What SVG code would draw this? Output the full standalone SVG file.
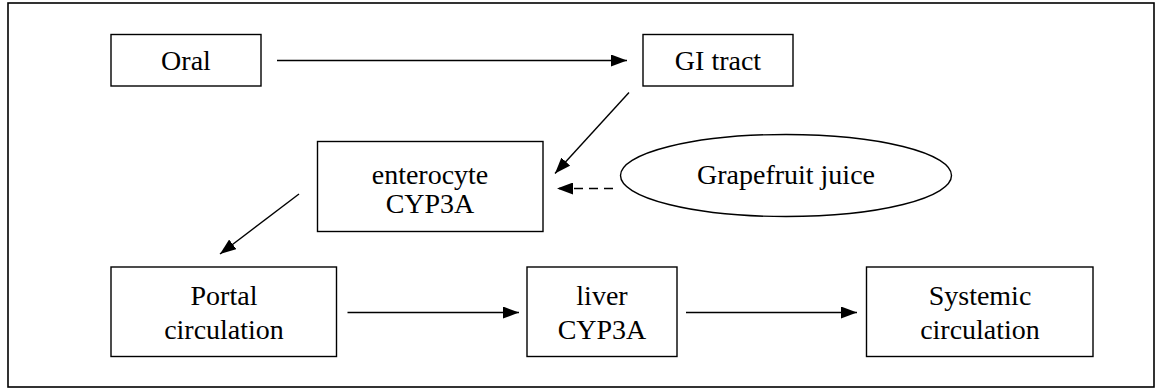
<svg xmlns="http://www.w3.org/2000/svg" width="1159" height="388" viewBox="0 0 1159 388">
<style>
.box{fill:#fff;stroke:#000;stroke-width:1.4}
text{font-family:'Liberation Serif','Times New Roman',Times,serif;font-size:28px;fill:#000;text-anchor:middle}
.c{stroke:#000;stroke-width:1.4;fill:none;marker-end:url(#ah)}
.d{stroke-dasharray:9,6}
</style>
<defs>
<marker id="ah" markerUnits="userSpaceOnUse" markerWidth="18" markerHeight="12" refX="16" refY="6" orient="auto">
<path d="M0,0 L16,6 L0,12 Z" fill="#000"/>
</marker>
</defs>
<rect x="8" y="3" width="1146" height="384" fill="#fff" stroke="#000" stroke-width="1.6"/>
<g id="oral"><rect class="box" x="111" y="34.5" width="150" height="51.5"/><text x="186" y="70">Oral</text></g>
<g id="gi"><rect class="box" x="643" y="34.5" width="150" height="51.5"/><text x="718" y="70">GI tract</text></g>
<g id="enterocyte"><rect class="box" x="317.5" y="141.5" width="225.5" height="90"/><text x="430" y="184">enterocyte</text><text x="430" y="213">CYP3A</text></g>
<g id="grapefruit"><ellipse class="box" cx="786" cy="175.5" rx="165.5" ry="41"/><text x="786" y="184">Grapefruit juice</text></g>
<g id="portal"><rect class="box" x="111" y="267" width="225.5" height="89.5"/><text x="224" y="305">Portal</text><text x="224" y="339">circulation</text></g>
<g id="liver"><rect class="box" x="527" y="267" width="150" height="89.5"/><text x="602" y="305">liver</text><text x="602" y="339">CYP3A</text></g>
<g id="systemic"><rect class="box" x="866.5" y="267" width="226.5" height="89.5"/><text x="980" y="305">Systemic</text><text x="980" y="339">circulation</text></g>
<g id="connectors">
<line class="c" x1="277" y1="60.5" x2="627" y2="60.5"/>
<line class="c" x1="629" y1="92.5" x2="555" y2="173.5"/>
<line class="c d" x1="613" y1="188.5" x2="557" y2="188.5"/>
<line class="c" x1="299" y1="194" x2="220" y2="254"/>
<line class="c" x1="347.5" y1="312.5" x2="519" y2="312.5"/>
<line class="c" x1="686" y1="312.5" x2="857" y2="312.5"/>
</g>
</svg>
